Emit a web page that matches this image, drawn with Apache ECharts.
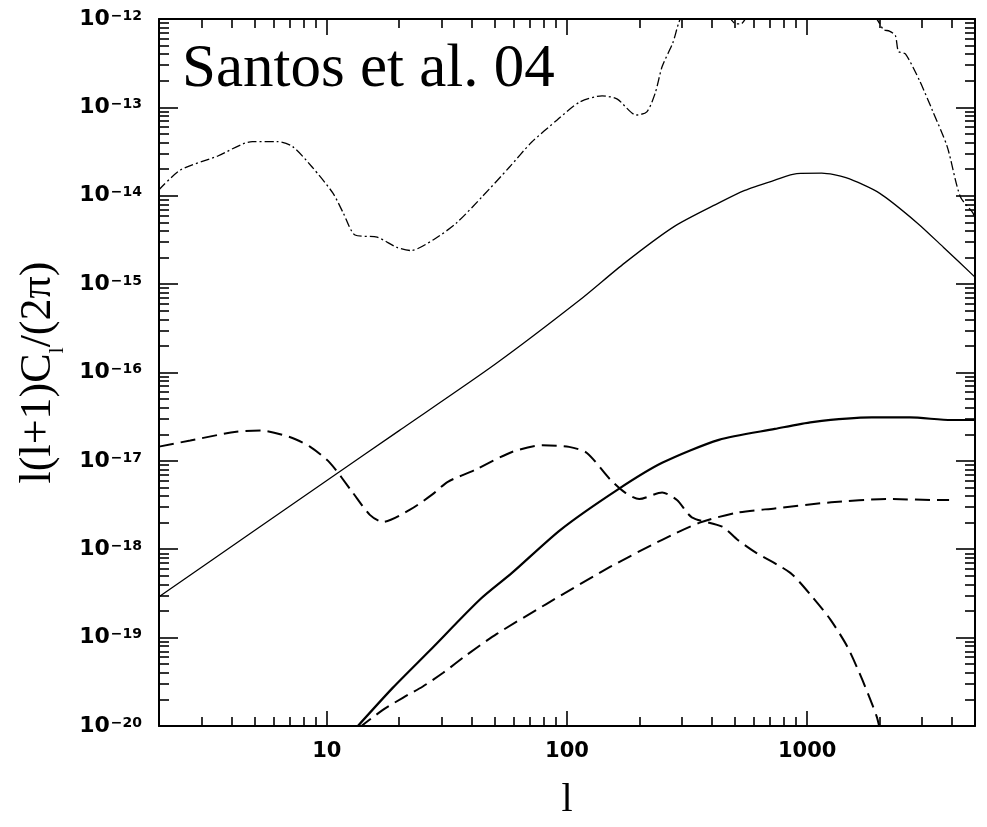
<!DOCTYPE html>
<html><head><meta charset="utf-8">
<script src="https://cdn.jsdelivr.net/npm/echarts@6/dist/echarts.min.js"></script>
<style>html,body{margin:0;padding:0;background:#fff}#c{width:987px;height:827px}</style>
</head><body><div id="c"></div>
<script>
// tick values
const xMajor = [10, 100, 1000];
const xMinor = [3,4,5,6,7,8,9,20,30,40,50,60,70,80,90,200,300,400,500,600,700,800,900,2000,3000,4000];
const yMajor = [1e-20,1e-19,1e-18,1e-17,1e-16,1e-15,1e-14,1e-13,1e-12];
const yMinorMult = [2,3,4,5,6,7,8,9];
const yDecades = [1e-20,1e-19,1e-18,1e-17,1e-16,1e-15,1e-14,1e-13];

// curve A: dash-dot (thin)
const aL = [2,2.46,3.5,4.9,6.2,7.2,8.7,10.6,11.7,13.1,16.2,19.6,22.4,27.9,34.6,44.4,57.5,71,91,113,140,162,194,215,233,249,276,293,320,380,440,480,505,530,555,600,800,1200,1700,1950,2080,2200,2330,2400,2570,2940,3320,3830,4340,4900,5000];
const aV = [1.17e-14,1.96e-14,2.8e-14,4.1e-14,4.1e-14,3.6e-14,2.1e-14,1.07e-14,6.4e-15,3.6e-15,3.4e-15,2.6e-15,2.4e-15,3.2e-15,4.9e-15,9.8e-15,2.1e-14,4.0e-14,7.2e-14,1.15e-13,1.35e-13,1.24e-13,8.2e-14,8.9e-14,1.45e-13,2.9e-13,5.4e-13,9.3e-13,1.5e-12,1.7e-12,1.25e-12,1.0e-12,0.88e-12,0.88e-12,1.02e-12,1.5e-12,3e-12,3e-12,1.5e-12,1.0e-12,7.6e-13,7.3e-13,6.5e-13,4.3e-13,4.0e-13,2.0e-13,9.3e-14,3.6e-14,9.8e-15,6.4e-15,5.5e-15];

// curve B: thin solid
const bL = [2,5,10,20,50,113,174,280,429,550,734,905,1150,1450,2000,2880,3700,5000];
const bV = [2.9e-19,1.63e-18,6.0e-18,2.2e-17,1.23e-16,6.6e-16,1.74e-15,4.5e-15,8.3e-15,1.15e-14,1.5e-14,1.78e-14,1.8e-14,1.6e-14,1.07e-14,4.9e-15,2.6e-15,1.2e-15];

// curve C: dashed (upper)
const cL = [2,2.7,4.2,5.3,7.0,8.5,10.3,12.8,15.1,17.1,22.2,27.6,31.9,41.4,59,79,102,121,151,174,200,249,287,331,443,513,614,851,1050,1250,1470,1700,1950,2030];
const cV = [1.45e-17,1.7e-17,2.14e-17,2.2e-17,1.86e-17,1.45e-17,9.5e-18,4.4e-18,2.45e-18,2.04e-18,2.8e-18,4.2e-18,5.8e-18,7.9e-18,1.26e-17,1.5e-17,1.44e-17,1.23e-17,6.2e-18,4.4e-18,3.7e-18,4.4e-18,3.6e-18,2.3e-18,1.8e-18,1.28e-18,9.1e-19,5.4e-19,2.9e-19,1.6e-19,7.9e-20,3.3e-20,1.27e-20,8e-21];

// curve D: thick solid (lower)
const dL = [13,18.8,26.9,43.4,59,94,162,249,429,734,1050,1860,2680,3980,5000];
const dV = [9e-21,2.7e-20,7.2e-20,2.7e-19,5.4e-19,1.66e-18,4.7e-18,9.5e-18,1.73e-17,2.3e-17,2.75e-17,3.1e-17,3.1e-17,2.9e-17,2.9e-17];

// curve E: dashed (lower)
const eL = [13.6,17,20.8,25.1,30.5,38.3,51,82,151,249,357,513,734,1260,2150,3700,3900];
const eV = [9.5e-21,1.5e-20,2.1e-20,2.8e-20,4.0e-20,6.4e-20,1.1e-19,2.4e-19,6.3e-19,1.28e-18,2.0e-18,2.6e-18,2.9e-18,3.4e-18,3.7e-18,3.6e-18,3.6e-18];

const zip = (a, b) => a.map((v, i) => [v, b[i]]);
const yMinor = [];
yDecades.forEach(d => yMinorMult.forEach(m => yMinor.push(m * d)));

const INK = '#000';
const X_MIN = 2, X_MAX = 5000, Y_MIN = 1e-20, Y_MAX = 1e-12;

function xAx(pos, vals, len, showLine, showLabel) {
  return {
    type: 'log', gridIndex: 0, position: pos, min: X_MIN, max: X_MAX,
    axisLine: { show: showLine, onZero: false, lineStyle: { color: INK, width: 2 } },
    axisTick: { show: true, inside: true, length: len, customValues: vals, lineStyle: { color: INK, width: 1.6 } },
    axisLabel: showLabel ? {
      show: true, customValues: vals, margin: 15, color: INK,
      fontFamily: 'DejaVu Sans', fontWeight: 'bold', fontSize: 21,
      formatter: v => String(Math.round(v))
    } : { show: false },
    splitLine: { show: false }, minorTick: { show: false }
  };
}
function yAx(pos, vals, len, showLine, showLabel) {
  return {
    type: 'log', gridIndex: 0, position: pos, min: Y_MIN, max: Y_MAX,
    axisLine: { show: showLine, onZero: false, lineStyle: { color: INK, width: 2 } },
    axisTick: { show: true, inside: true, length: len, customValues: vals, lineStyle: { color: INK, width: 1.6 } },
    axisLabel: showLabel ? {
      show: true, customValues: vals, margin: 17, color: INK,
      formatter: v => '{b|10}{s|−' + (-Math.round(Math.log10(v))) + '}',
      rich: {
        b: { fontFamily: 'DejaVu Sans', fontWeight: 'bold', fontSize: 22, lineHeight: 22, verticalAlign: 'top', color: INK },
        s: { fontFamily: 'DejaVu Sans', fontWeight: 'bold', fontSize: 14, lineHeight: 14, verticalAlign: 'top', color: INK, padding: [1, 0, 0, 1] }
      }
    } : { show: false },
    splitLine: { show: false }, minorTick: { show: false }
  };
}

const xAxes = [xAx('bottom', xMajor, 15, true, true), xAx('bottom', xMinor, 9, false, false),
               xAx('top', xMajor, 16, true, false), xAx('top', xMinor, 9, false, false)];
Object.assign(xAxes[0], {
  name: 'l', nameLocation: 'middle', nameGap: 54,
  nameTextStyle: { fontFamily: 'Liberation Serif', fontSize: 40, color: INK }
});
const yAxes = [yAx('left', yMajor, 19, true, true), yAx('left', yMinor, 10, false, false),
               yAx('right', yMajor, 19, true, false), yAx('right', yMinor, 10, false, false)];
Object.assign(yAxes[0], {
  name: '{m|l(l+1)C}{s|l}{m|/(2π)}', nameLocation: 'middle', nameGap: 77,
  nameTextStyle: {
    color: INK,
    rich: {
      m: { fontFamily: 'Liberation Serif', fontSize: 44, lineHeight: 50, verticalAlign: 'top', color: INK },
      s: { fontFamily: 'Liberation Serif', fontSize: 22, lineHeight: 22, verticalAlign: 'top', padding: [30, 0, 0, 0], color: INK }
    }
  }
});

function ser(l, v, width, type) {
  return {
    type: 'line', xAxisIndex: 0, yAxisIndex: 0, data: zip(l, v),
    symbol: 'none', showSymbol: false, smooth: 0.25, clip: true, silent: true,
    lineStyle: { color: INK, width: width, type: type }
  };
}

const chart = echarts.init(document.getElementById('c'), null, { renderer: 'canvas' });
chart.setOption({
  animation: false,
  backgroundColor: '#fff',
  title: {
    text: 'Santos et al. 04', left: 182, top: 39, padding: 0,
    textStyle: { fontFamily: 'Liberation Serif', fontSize: 61, fontWeight: 'normal', color: INK }
  },
  grid: { left: 159, right: 12, top: 19, bottom: 101, containLabel: false },
  xAxis: xAxes,
  yAxis: yAxes,
  series: [
    ser(aL, aV, 1.3, [9, 3, 2, 3]),
    ser(bL, bV, 1.3, 'solid'),
    ser(cL, cV, 2, [15, 7]),
    ser(dL, dV, 2.2, 'solid'),
    ser(eL, eV, 2, [15, 7])
  ]
});
</script></body></html>
